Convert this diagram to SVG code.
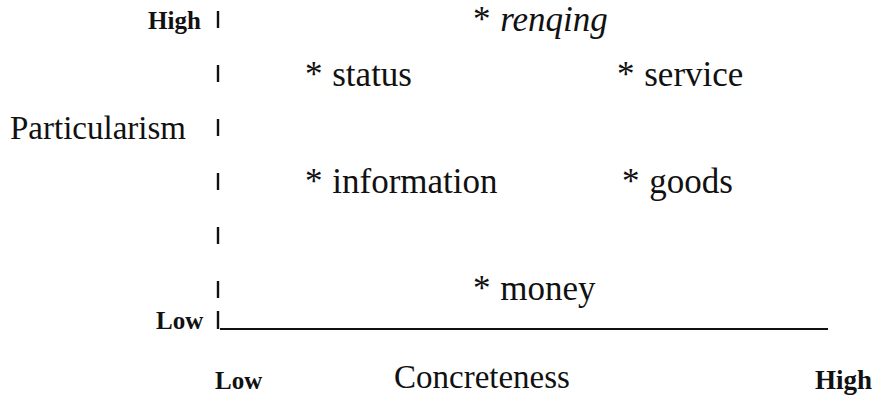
<svg xmlns="http://www.w3.org/2000/svg" width="882" height="396" viewBox="0 0 882 396">
  <style>
    .lbl { font-family: "Liberation Serif", "Times New Roman", serif; font-size: 33px; fill: #111; }
    .star { font-size: 35px; word-spacing: 1px; }
    .it { font-style: italic; }
    .end { font-family: "Liberation Serif", "Times New Roman", serif; font-size: 25px; font-weight: bold; fill: #111; }
    .tick { stroke: #111; stroke-width: 2.4; }
    .axis { stroke: #111; stroke-width: 2; fill: none; }
  </style>
  <rect width="882" height="396" fill="#fff"/>

  <!-- vertical axis drawn as a column of short strokes -->
  <g id="axis">
    <line class="tick" x1="218" y1="11" x2="218" y2="28"/>
    <line class="tick" x1="218" y1="65" x2="218" y2="82"/>
    <line class="tick" x1="218" y1="119" x2="218" y2="136"/>
    <line class="tick" x1="218" y1="173" x2="218" y2="190"/>
    <line class="tick" x1="218" y1="227" x2="218" y2="244"/>
    <line class="tick" x1="218" y1="281" x2="218" y2="298"/>
    <line class="tick" x1="218" y1="311" x2="218" y2="329"/>
    <line class="axis" x1="220" y1="329" x2="828" y2="329"/>
  </g>

  <!-- axis labels -->
  <g id="labels">
    <text class="end" x="148" y="29">High</text>
    <text class="lbl" x="10" y="139">Particularism</text>
    <text class="end" x="156" y="329">Low</text>
    <text class="end" x="215" y="389">Low</text>
    <text class="lbl" x="394" y="388">Concreteness</text>
    <text class="end" x="815" y="389" style="font-size:27px">High</text>
  </g>

  <!-- resource types -->
  <g id="renqing"><text class="lbl star" x="473" y="31">* <tspan class="it">renqing</tspan></text></g>
  <g id="status"><text class="lbl star" x="305" y="86">* status</text></g>
  <g id="service"><text class="lbl star" x="617" y="86">* service</text></g>
  <g id="information"><text class="lbl star" x="305" y="193">* information</text></g>
  <g id="goods"><text class="lbl star" x="622" y="193">* goods</text></g>
  <g id="money"><text class="lbl star" x="473" y="300">* money</text></g>
</svg>
